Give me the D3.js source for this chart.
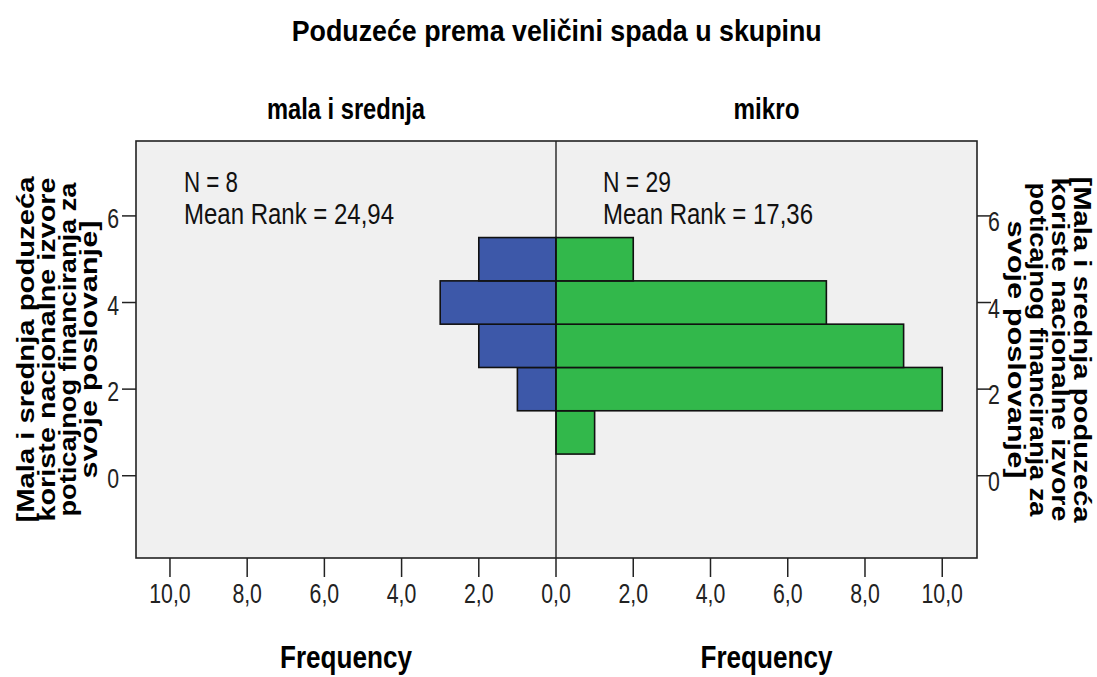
<!DOCTYPE html>
<html>
<head>
<meta charset="utf-8">
<script src="https://cdn.jsdelivr.net/npm/d3@7"></script>
<style>
  html, body { margin: 0; padding: 0; background: #fff; }
  svg { display: block; font-family: "Liberation Sans", Arial, sans-serif; }
</style>
</head>
<body>
<div id="chart"></div>
<script>
// bins of the rank variable (centre of each bar) and frequencies per group
const bins = [1, 2, 3, 4, 5];
const malaFreq = [0, 1, 2, 3, 2];
const mikroFreq = [1, 10, 9, 7, 2];
const groups = ['mala i srednja', 'mikro'];
const groupStats = [
  { n: 'N = 8', rank: 'Mean Rank = 24,94' },
  { n: 'N = 29', rank: 'Mean Rank = 17,36' },
];
const freqTicks = [0, 2, 4, 6, 8, 10];
const rankTicks = [0, 2, 4, 6];
const axisTitleLines = [
  '[Mala i srednja poduzeća',
  'koriste  nacionalne izvore',
  'poticajnog financiranja za',
  'svoje poslovanje]',
];

const W = 1097, H = 677;
const box = { left: 136, right: 977, top: 141, bottom: 558 };
const mid = 556;

const svg = d3.select('#chart').append('svg')
  .attr('width', W).attr('height', H);

const y = d3.scaleLinear().domain([-1.9, 7.73]).range([box.bottom, box.top]);
const xLeft = d3.scaleLinear().domain([0, 10.88]).range([mid, box.left]);
const xRight = d3.scaleLinear().domain([0, 10.9]).range([mid, box.right]);

// squeeze text horizontally, either to a fixed width or by a factor
function fit(sel, width) {
  sel.each(function () {
    const w = typeof width === 'function' ? width(this.getComputedTextLength()) : width;
    d3.select(this).attr('textLength', w).attr('lengthAdjust', 'spacingAndGlyphs');
  });
  return sel;
}

// plot background
svg.append('rect')
  .attr('x', box.left).attr('y', box.top)
  .attr('width', box.right - box.left).attr('height', box.bottom - box.top)
  .attr('fill', '#f0f0f0');

// bars
const barH = y(0) - y(1);
svg.append('g').selectAll('rect')
  .data(bins.map((b, i) => ({ b, v: malaFreq[i] })).filter(d => d.v > 0))
  .join('rect')
  .attr('x', d => xLeft(d.v)).attr('y', d => y(d.b + 0.5))
  .attr('width', d => mid - xLeft(d.v)).attr('height', barH)
  .attr('fill', '#3d58a9').attr('stroke', '#111').attr('stroke-width', 1.6);

svg.append('g').selectAll('rect')
  .data(bins.map((b, i) => ({ b, v: mikroFreq[i] })).filter(d => d.v > 0))
  .join('rect')
  .attr('x', mid).attr('y', d => y(d.b + 0.5))
  .attr('width', d => xRight(d.v) - mid).attr('height', barH)
  .attr('fill', '#32b84b').attr('stroke', '#111').attr('stroke-width', 1.6);

// centre line and frame
svg.append('line')
  .attr('x1', mid).attr('x2', mid).attr('y1', box.top).attr('y2', box.bottom)
  .attr('stroke', '#111').attr('stroke-width', 1.3);
svg.append('rect')
  .attr('x', box.left).attr('y', box.top)
  .attr('width', box.right - box.left).attr('height', box.bottom - box.top)
  .attr('fill', 'none').attr('stroke', '#222').attr('stroke-width', 1.6);

// bottom frequency axes
const fmt = d => d3.format('.1f')(d).replace('.', ',');
[xLeft, xRight].forEach((x, k) => {
  const g = svg.append('g');
  const ticks = k === 0 ? freqTicks : freqTicks.slice(1);
  g.selectAll('line').data(ticks).join('line')
    .attr('x1', d => x(d)).attr('x2', d => x(d))
    .attr('y1', box.bottom).attr('y2', box.bottom + 19)
    .attr('stroke', '#222').attr('stroke-width', 1.5);
  g.selectAll('text').data(ticks).join('text')
    .attr('x', d => x(d)).attr('y', 603)
    .attr('text-anchor', 'middle')
    .attr('font-size', 28).attr('fill', '#222')
    .text(fmt)
    .call(fit, w => w * 0.76);
});

// rank axes, left and right
const yl = svg.append('g');
yl.selectAll('line').data(rankTicks).join('line')
  .attr('x1', box.left - 14).attr('x2', box.left)
  .attr('y1', d => y(d)).attr('y2', d => y(d))
  .attr('stroke', '#222').attr('stroke-width', 1.5);
yl.selectAll('text').data(rankTicks).join('text')
  .attr('x', 119).attr('y', d => y(d) + 12)
  .attr('text-anchor', 'end').attr('font-size', 28).attr('fill', '#222')
  .text(d => d)
  .call(fit, w => w * 0.76);

const yr = svg.append('g');
yr.selectAll('line').data(rankTicks).join('line')
  .attr('x1', box.right).attr('x2', box.right + 14)
  .attr('y1', d => y(d)).attr('y2', d => y(d))
  .attr('stroke', '#222').attr('stroke-width', 1.5);
yr.selectAll('text').data(rankTicks).join('text')
  .attr('x', 988).attr('y', d => y(d) + 15)
  .attr('text-anchor', 'start').attr('font-size', 28).attr('fill', '#222')
  .text(d => d)
  .call(fit, w => w * 0.76);

// rotated axis titles
const lineLen = [346, 344, 334, 258];
const cy = (box.top + box.bottom) / 2;
const leftBase = [34, 55, 76, 97];
const rightBase = [1074, 1052, 1030, 1008];
axisTitleLines.forEach((t, i) => {
  svg.append('text')
    .attr('transform', `translate(${leftBase[i]},${cy}) rotate(-90)`)
    .attr('text-anchor', 'middle').attr('font-size', 23).attr('font-weight', 'bold')
    .text(t).call(fit, lineLen[i]);
  svg.append('text')
    .attr('transform', `translate(${rightBase[i]},${cy}) rotate(90)`)
    .attr('text-anchor', 'middle').attr('font-size', 23).attr('font-weight', 'bold')
    .text(t).call(fit, lineLen[i]);
});

// titles
svg.append('text')
  .attr('x', 556.7).attr('y', 41).attr('text-anchor', 'middle')
  .attr('font-size', 29).attr('font-weight', 'bold')
  .text('Poduzeće prema veličini spada u skupinu').call(fit, 530);

const panelCx = [(box.left + mid) / 2, (mid + box.right) / 2];
const panelW = [158, 66];
groups.forEach((gname, i) => {
  svg.append('text')
    .attr('x', panelCx[i]).attr('y', 119).attr('text-anchor', 'middle')
    .attr('font-size', 30).attr('font-weight', 'bold')
    .text(gname).call(fit, panelW[i]);
  svg.append('text')
    .attr('x', panelCx[i]).attr('y', 668).attr('text-anchor', 'middle')
    .attr('font-size', 31).attr('font-weight', 'bold')
    .text('Frequency').call(fit, 132);
});

// N and mean rank annotations
const statX = [184, 603];
const nW = [54, 68];
groupStats.forEach((s, i) => {
  svg.append('text')
    .attr('x', statX[i]).attr('y', 192).attr('font-size', 29).attr('fill', '#111')
    .text(s.n).call(fit, nW[i]);
  svg.append('text')
    .attr('x', statX[i]).attr('y', 224).attr('font-size', 29).attr('fill', '#111')
    .text(s.rank).call(fit, 210);
});
</script>
</body>
</html>
